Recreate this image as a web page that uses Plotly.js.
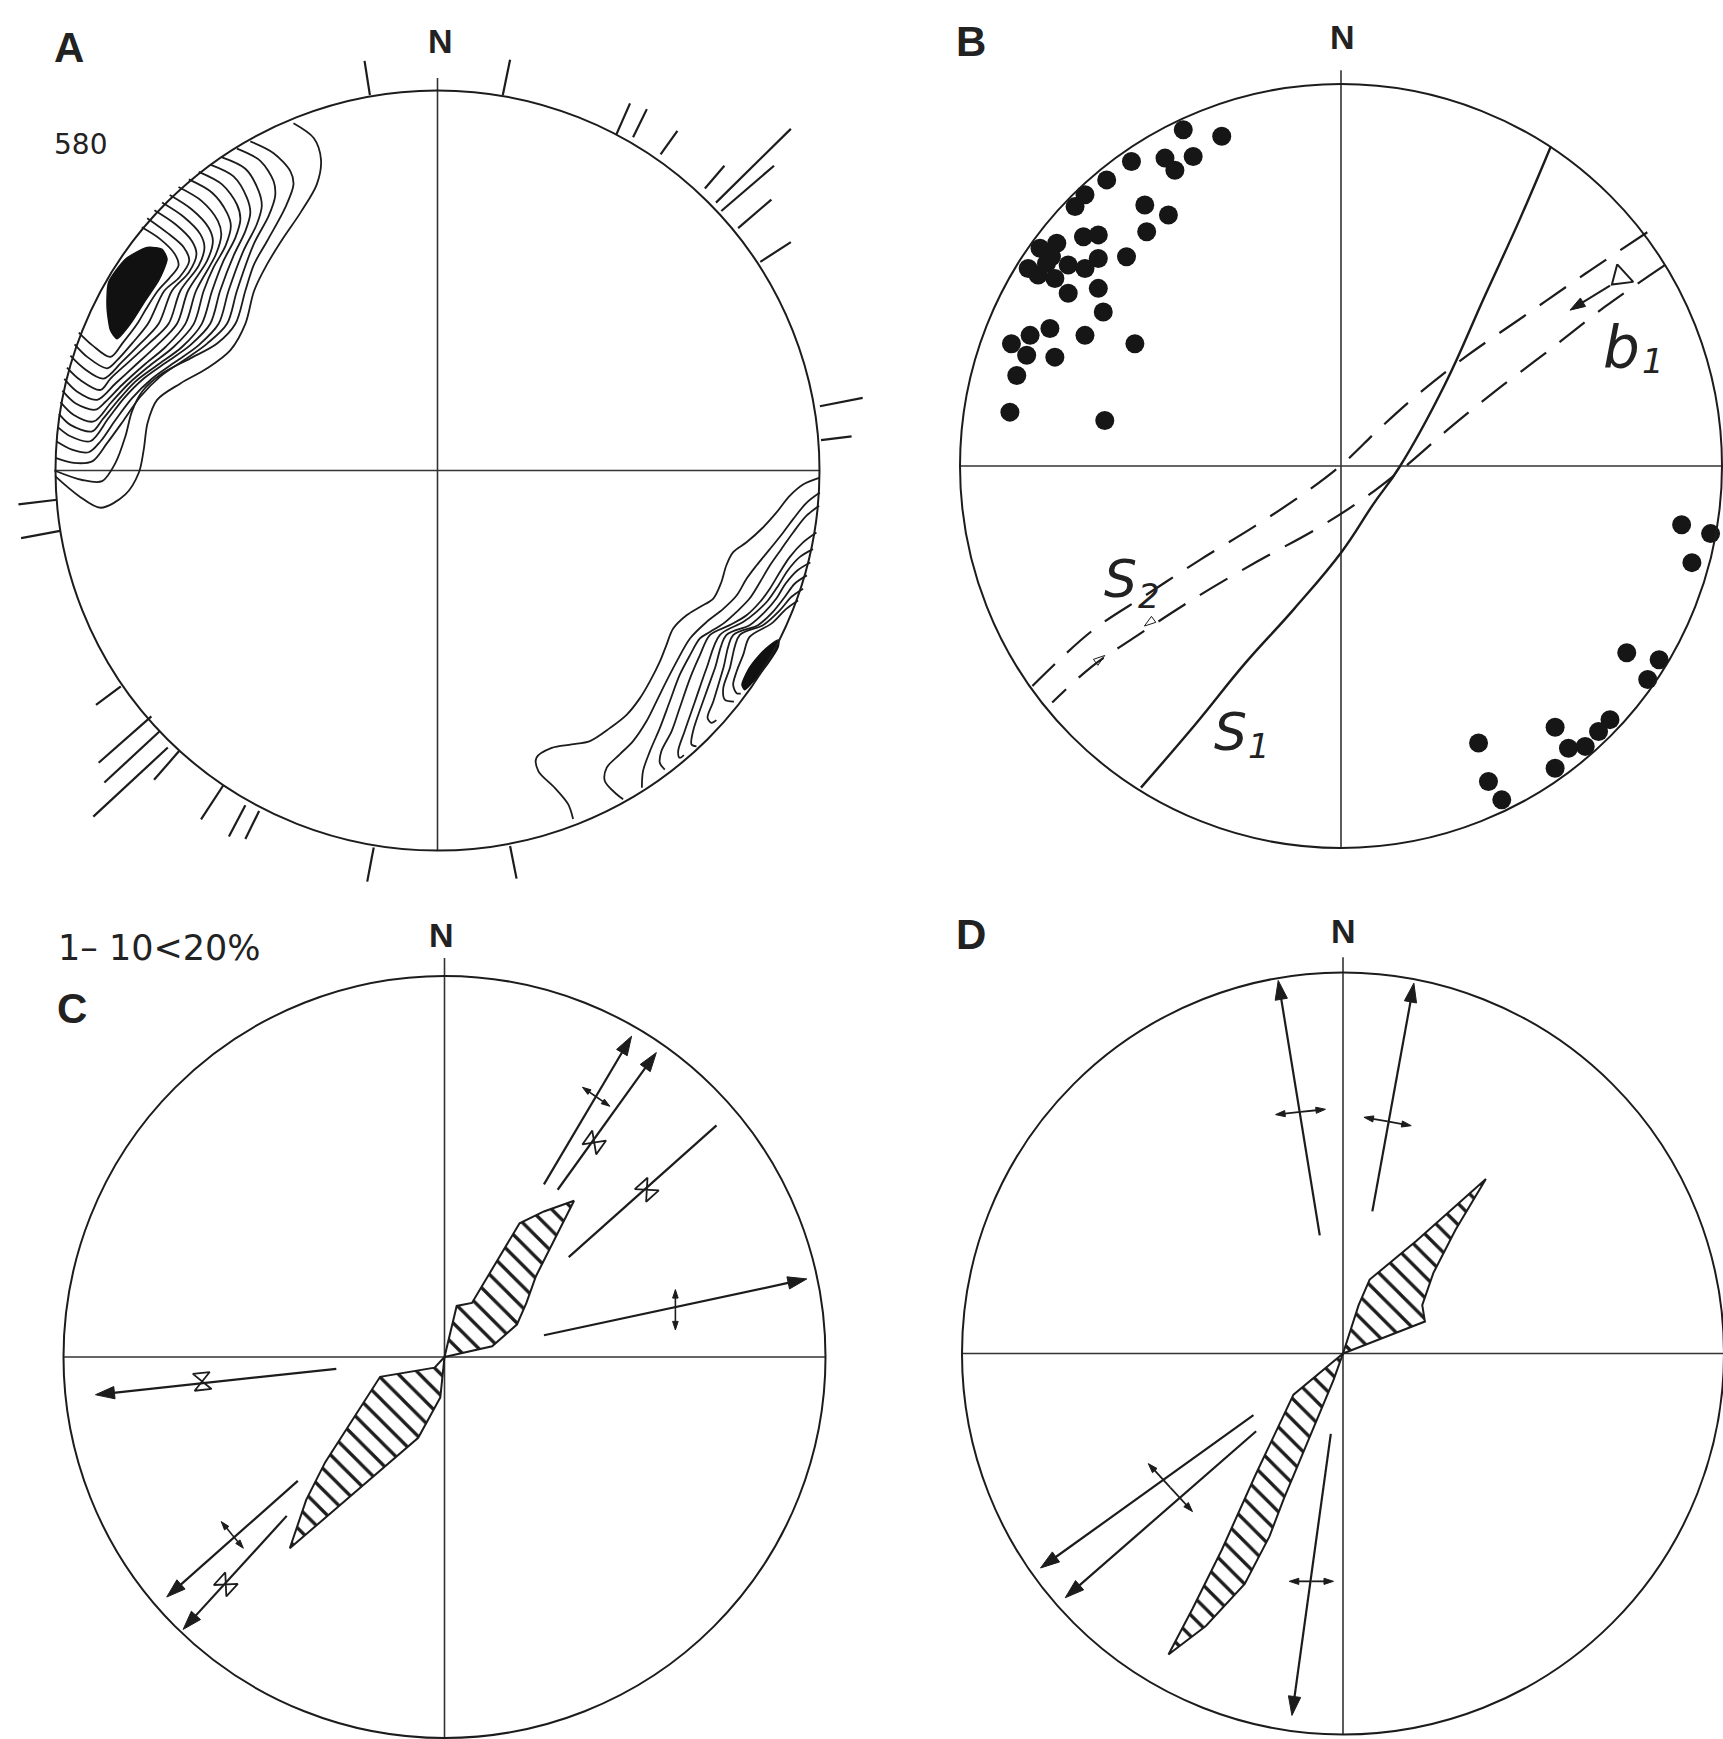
<!DOCTYPE html>
<html><head><meta charset="utf-8">
<script src="https://cdn.plot.ly/plotly-3.0.1.min.js"></script>
<style>html,body{margin:0;padding:0;background:#fff;}#chart{width:1723px;height:1739px;}</style>
</head><body><div id="chart"></div>
<script>
// ===== DATA (stereonet coordinates, primitive circle radius = 100) =====
// Panel A: contour lines of pole density (580 poles), NW maximum
const contoursNW = [
 [[-37.7,91.4],[-32.4,87.5],[-30.5,81.8],[-31.6,75.3],[-35.9,67.8],[-40.3,61.3],[-44.6,54.3],[-48.0,47.3],[-50.3,38.6],[-54.2,31.7],[-60.3,26.9],[-67.3,22.9],[-73.4,18.6],[-75.9,12.5],[-76.9,5.5],[-78.2,-0.6],[-81.7,-6.3],[-88.2,-9.8],[-93.9,-6.7],[-100.1,-1.5]],
 [[-49.0,86.6],[-42.9,83.5],[-38.5,78.7],[-37.7,75.3],[-39.9,69.1],[-44.6,60.4],[-48.0,54.3],[-50.3,47.3],[-52.9,38.6],[-57.7,33.4],[-64.7,29.5],[-72.1,25.5],[-77.3,20.8],[-80.0,15.5],[-81.7,9.0],[-84.3,2.0],[-87.8,-2.8],[-93.0,-2.5],[-100.3,0]],
 [[-52.5,84.7],[-46.4,81.5],[-42.9,76.1],[-42.5,72.2],[-44.2,67.0],[-48.1,59.6],[-52.5,47.3],[-55.1,38.6],[-60.3,33.4],[-66.4,29.0],[-72.6,24.7],[-77.8,19.4],[-82.1,13.3],[-86.5,7.2],[-90.4,2.4],[-95.2,2.0],[-100.0,3.3]],
 [[-56.4,82.4],[-50.3,79.4],[-46.8,73.5],[-46.0,69.6],[-47.3,64.8],[-50.8,57.8],[-54.7,47.3],[-57.3,38.6],[-62.5,33.0],[-68.6,28.6],[-74.7,24.2],[-80.0,19.0],[-84.3,13.3],[-88.2,7.7],[-91.3,4.8],[-95.7,5.5],[-99.8,7.7]],
 [[-59.5,80.5],[-53.4,77.4],[-49.9,71.8],[-49.0,67.8],[-50.3,63.0],[-53.4,56.5],[-56.9,47.3],[-59.5,38.6],[-64.7,33.0],[-70.8,28.6],[-76.9,24.2],[-82.1,19.0],[-86.1,13.8],[-90.9,7.7],[-96.1,9.0],[-99.4,11.4]],
 [[-62.5,78.6],[-56.4,75.3],[-52.5,70.0],[-51.6,66.1],[-52.9,61.3],[-56.0,55.2],[-59.0,47.3],[-61.7,38.6],[-66.9,32.5],[-73.4,27.7],[-79.1,23.4],[-83.9,18.1],[-87.8,13.3],[-90.4,10.3],[-96.1,12.0],[-99.1,14.9]],
 [[-65.1,76.6],[-59.0,73.1],[-55.1,67.8],[-54.1,64.4],[-55.5,59.1],[-58.6,53.5],[-61.2,47.3],[-63.8,38.6],[-69.1,32.5],[-75.2,27.7],[-80.8,22.9],[-85.6,17.7],[-90.0,12.9],[-95.2,14.6],[-98.7,18.0]],
 [[-67.8,74.6],[-61.7,70.9],[-57.5,65.7],[-56.6,62.2],[-58.0,56.9],[-63.2,47.3],[-66.0,38.6],[-71.2,32.5],[-76.9,27.7],[-82.6,22.5],[-86.9,18.1],[-89.6,16.0],[-94.8,17.7],[-98.2,21.0]],
 [[-70.1,72.5],[-64.3,68.7],[-59.9,63.9],[-58.8,60.4],[-60.3,55.2],[-65.3,47.3],[-68.2,38.6],[-73.4,33.0],[-79.1,27.7],[-84.3,22.9],[-89.1,18.6],[-94.4,20.8],[-97.7,24.1]],
 [[-72.1,70.5],[-66.4,66.7],[-62.1,62.2],[-61.0,58.7],[-62.5,53.9],[-67.3,47.3],[-70.4,38.6],[-75.6,33.4],[-80.8,28.6],[-85.6,24.2],[-88.2,21.2],[-93.5,23.8],[-97.0,27.1]],
 [[-74.1,68.5],[-68.6,64.8],[-64.3,60.4],[-63.1,56.9],[-65.1,52.1],[-69.5,47.3],[-73.0,38.6],[-77.8,33.4],[-82.6,28.6],[-87.4,24.2],[-92.6,26.9],[-96.1,30.2]],
 [[-76.0,66.4],[-70.8,62.6],[-66.4,58.7],[-65.0,55.2],[-67.6,50.8],[-71.5,47.3],[-75.8,38.6],[-80.0,33.4],[-83.9,29.0],[-86.5,26.9],[-91.7,29.9],[-95.0,33.2]],
 [[-77.4,64.0],[-72.6,60.9],[-68.8,57.0],[-67.8,53.9],[-70.3,50.5],[-73.2,47.3],[-76.3,42.5],[-78.6,38.6],[-82.4,33.6],[-85.6,29.9],[-90.4,33.0],[-93.9,36.3]]
];
const maxNW = [[-86.1,49.5],[-81.7,55.6],[-76.0,58.7],[-72.1,58.2],[-70.8,55.6],[-73.0,50.0],[-76.5,44.7],[-80.4,38.6],[-83.9,34.7],[-85.6,36.9],[-86.5,43.0],[-86.1,49.5]];
// Panel A: contour lines, SE maximum
const contoursSE = [
 [[100.1,-1.9],[95.7,-3.7],[92.2,-6.7],[88.7,-11.1],[85.2,-15.0],[80.9,-18.9],[77.4,-21.5],[75.6,-25.0],[74.3,-29.4],[72.2,-33.7],[68.7,-35.9],[65.2,-38.1],[61.7,-41.6],[59.9,-46.0],[58.2,-50.3],[55.6,-55.5],[53.0,-59.9],[49.5,-64.3],[45.1,-67.8],[39.9,-71.2],[35.1,-72.1],[29.9,-73.0],[25.9,-75.6],[26.4,-79.1],[30.7,-83.5],[34.2,-87.8],[35.5,-91.7]],
 [[100.1,-5.8],[96.6,-8.5],[93.1,-12.8],[90.5,-16.3],[87.0,-20.7],[83.5,-25.0],[80.9,-28.5],[78.3,-32.9],[74.8,-36.4],[70.4,-39.9],[66.1,-44.2],[62.6,-50.3],[59.9,-55.5],[57.3,-60.8],[54.7,-66.0],[51.2,-71.2],[47.7,-74.7],[44.3,-78.2],[43.8,-81.7],[46.9,-85.2],[48.6,-86.5]],
 [[99.9,-9.3],[96.6,-11.9],[93.1,-16.3],[90.0,-20.7],[87.0,-25.0],[84.4,-29.4],[81.7,-33.7],[78.3,-37.2],[74.8,-40.3],[71.3,-42.5],[68.7,-44.2],[66.1,-48.6],[63.4,-53.8],[60.8,-60.8],[58.2,-67.8],[55.6,-73.9],[53.8,-79.1],[53.5,-83.5]],
 [[99.2,-16.3],[95.7,-18.9],[92.2,-22.8],[89.6,-26.8],[87.0,-31.1],[84.4,-34.6],[80.9,-38.1],[76.5,-40.7],[71.3,-43.3],[68.7,-48.6],[66.1,-54.7],[63.4,-62.5],[61.3,-68.6],[58.6,-73.9],[58.2,-76.9],[59.5,-78.7]],
 [[98.3,-20.7],[94.8,-22.8],[91.7,-26.3],[89.2,-30.3],[86.5,-34.2],[83.5,-37.2],[80.0,-39.9],[73.9,-43.3],[70.4,-52.1],[67.4,-60.8],[64.7,-68.6],[63.0,-73.9],[63.4,-75.6],[64.5,-74.9]],
 [[97.6,-24.2],[94.2,-26.3],[91.1,-29.8],[88.7,-33.7],[85.7,-37.2],[81.7,-40.7],[75.6,-43.3],[72.6,-52.1],[69.5,-60.8],[66.9,-68.6],[66.5,-72.1],[67.8,-72.6]],
 [[96.7,-27.6],[93.5,-29.8],[90.9,-33.3],[87.8,-37.2],[83.9,-40.7],[77.4,-43.3],[74.8,-52.1],[72.2,-60.8],[70.7,-65.1],[71.7,-66.4],[73.0,-65.7]],
 [[95.7,-31.1],[92.6,-33.3],[89.6,-36.8],[85.2,-40.7],[79.1,-43.3],[76.5,-52.1],[74.8,-57.3],[75.2,-60.3],[77.6,-60.8]],
 [[94.4,-34.2],[91.3,-36.4],[87.4,-40.3],[81.7,-43.8],[80.0,-48.6],[78.3,-52.9],[77.4,-56.4],[78.3,-58.6],[79.4,-58.7]]
];
const maxSE = [[89.3,-44.6],[87.0,-46.0],[83.9,-49.0],[81.3,-52.5],[79.7,-56.4],[80.4,-57.7],[83.0,-55.1],[86.5,-50.8],[89.2,-46.4],[89.3,-44.6]];
// Panel A: perimeter ticks [x0,y0,x1,y1]
const ticksA = [
 [-17.7,98.8,-19.1,107.8],[17.1,98.8,19.0,108.1],
 [46.8,88.4,50.4,96.6],[51.2,87.7,54.8,95.1],[58.4,83.2,62.8,89.4],[70.0,74.2,75.1,80.2],
 [72.9,70.5,92.5,89.9],[74.3,68.3,88.1,80.2],[78.7,63.8,87.4,71.3],[84.5,54.9,92.5,60.1],
 [100.1,16.9,111.3,19.1],[100.4,8.0,108.4,9.0],
 [-99.6,-7.7,-109.7,-8.9],[-98.8,-15.9,-109.0,-17.8],
 [-82.9,-56.8,-89.4,-61.7],[-74.9,-64.7,-88.7,-76.9],[-72.8,-68.7,-87.2,-82.1],[-70.6,-72.9,-90.1,-91.1],
 [-67.7,-73.9,-74.2,-81.4],[-56.1,-82.9,-61.9,-91.8],[-50.3,-88.1,-54.6,-96.3],[-46.7,-89.6,-50.3,-97.0],
 [-16.7,-99.2,-18.4,-108.2],[19.0,-98.8,20.7,-107.4]
];
// Panel B: poles (dots)
const bPolesX = [-41.4,-31.3,-55.0,-46.2,-43.6,-38.8,-61.5,-67.2,-69.8,-51.5,-45.3,-51.0,-67.6,-63.7,-74.6,-79.0,-76.0,-63.7,-56.3,-82.1,-77.3,-71.6,-67.2,-79.5,-75.1,-63.7,-71.6,-62.4,-76.4,-81.6,-86.5,-67.2,-54.1,-82.5,-75.1,-85.1,-86.9,-62.0,
                 89.4,97.0,92.1,75.0,83.5,80.5,70.6,67.6,64.1,59.7,56.2,56.2,36.1,38.7,42.2];
const bPolesY = [88.0,86.3,79.7,80.6,77.4,81.0,74.9,71.0,67.9,68.3,65.7,61.3,60.0,60.5,58.3,57.0,54.8,54.3,54.8,51.7,53.0,52.6,51.7,50.0,49.1,46.5,45.2,40.3,36.0,34.2,32.0,34.2,32.0,29.0,28.5,23.7,14.1,11.9,
                 -15.4,-17.7,-25.3,-48.9,-50.7,-55.9,-66.4,-69.5,-73.4,-73.9,-68.4,-79.1,-72.5,-82.6,-87.4];
// Panel B: great circles
const bS1 = [[55.1,83.7],[46.8,64.3],[37.6,44.2],[27.2,21.2],[15.4,-0.2],[8.4,-10.1],[0.3,-22.3],[-12.3,-37.4],[-25.3,-51.8],[-38.2,-67.6],[-52.5,-84.2]];
const bS2a = [[80.4,61.2],[64.2,50.4],[48.6,39.6],[33.0,28.8],[20.1,18.7],[9.7,9.4],[0.6,0.7],[-9.7,-7.2],[-22.7,-15.8],[-36.9,-24.5],[-51.2,-33.8],[-65.4,-43.2],[-81.0,-57.6]];
const bS2b = [[84.9,52.5],[69.3,41.7],[54.5,30.2],[40.0,19.2],[28.0,9.5],[17.0,0],[6.0,-8.5],[-6.5,-16.5],[-22.0,-25.0],[-38.2,-34.5],[-53.8,-44.6],[-65.4,-52.5],[-75.8,-61.9]];
const bB1Triangle = [[72.5,52.8],[76.7,48.2],[71.1,47.5],[72.5,52.8]];
const bB1Arrow = [[70.6,47.2,60.1,40.8]];
const bSmallArrows = [[-47.6,-39.0,-51.6,-41.9],[-66.0,-52.6,-62.0,-49.6]];
// Panel C: rose petals and fold axes
const cPetalNE = [[0,0],[3.2,13.4],[7.2,14.2],[13.2,24.1],[19.7,35.1],[26.1,38.2],[34.0,41.0],[29.0,31.1],[24.0,21.2],[21.5,14.2],[19.0,8.5],[12.5,2.8],[3.2,0.7],[0,0]];
const cPetalSW = [[0,0],[-2.6,-2.8],[-16.9,-5.2],[-24.1,-16.3],[-31.3,-27.6],[-36.3,-37.5],[-40.6,-50.2],[-29.9,-41.0],[-18.4,-31.1],[-6.9,-21.2],[-1.1,-10.6],[0,0]];
const cArrows = [[26.1,45.3,49.1,84.2],[29.7,43.9,55.6,79.9],[26.1,5.7,95.1,20.5],[-28.4,-3.1,-91.6,-9.9],[-38.5,-32.5,-72.9,-63.0],[-41.4,-41.7,-68.6,-71.5]];
const cPlainLine = [[32.6,26.2],[71.4,60.8]];
const cDoubleBars = [[36.2,70.8,43.4,65.8],[60.6,17.7,60.6,7.1],[-58.6,-43.2,-52.8,-50.2]];
const cSynformX = [39.3,53.1,-63.6,-57.4];
const cSynformY = [56.3,43.9,-6.4,-59.7];
const cSynformAngle = [-54.4,-41.7,-6.1,-47.5];
// Panel D
const dPetalNE = [[0,0],[4.1,12.7],[7.0,19.4],[19.3,29.6],[37.5,45.8],[29.5,32.4],[23.7,21.1],[20.8,12.7],[21.5,8.4],[0,0]];
const dPetalSW = [[0,0],[-13.0,-10.8],[-22.8,-31.5],[-31.8,-51.5],[-39.5,-67.0],[-45.8,-79.0],[-36.0,-71.5],[-25.8,-60.5],[-19.3,-48.0],[-15.5,-38.0],[-11.2,-27.8],[-2.5,-7.0],[0,0]];
const dArrows = [[-6.1,31.0,-17.0,97.9],[7.7,37.3,18.6,97.2],[-23.5,-16.2,-79.4,-56.3],[-22.8,-20.4,-72.9,-64.1],[-3.2,-21.1,-13.4,-95.0]];
const dDoubleBars = [[-17.7,62.7,-4.6,64.1],[5.5,62.0,17.9,59.8],[-51.1,-28.9,-39.5,-41.5],[-14.1,-59.8,-2.5,-59.8]];
// Labels
const labels = [
 {p:'A',t:'A',x:-96.5,y:111.4,s:42,w:'bold'},{p:'A',t:'N',x:0.7,y:113.0,s:34,w:'bold'},{p:'A',t:'580',x:-93.4,y:85.8,s:28,f:'DejaVu Sans'},
 {p:'B',t:'B',x:-97.0,y:111.0,s:42,w:'bold'},{p:'B',t:'N',x:0.3,y:112.4,s:34,w:'bold'},
 {p:'B',t:'S',x:-28.9,y:-69.6,s:52,f:'DejaVu Sans',st:'italic'},{p:'B',t:'1',x:-21.4,y:-73.3,s:34,f:'DejaVu Sans',st:'italic'},
 {p:'B',t:'S',x:-58.0,y:-29.5,s:52,f:'DejaVu Sans',st:'italic'},{p:'B',t:'2',x:-50.5,y:-33.9,s:34,f:'DejaVu Sans',st:'italic'},
 {p:'B',t:'b',x:73.5,y:30.8,s:58,f:'DejaVu Sans',st:'italic'},{p:'B',t:'1',x:81.9,y:27.4,s:34,f:'DejaVu Sans',st:'italic'},
 {p:'C',t:'1– 10&lt;20%',x:-74.8,y:107.4,s:35,f:'DejaVu Sans'},{p:'C',t:'C',x:-97.9,y:91.5,s:42,w:'bold'},{p:'C',t:'N',x:-0.7,y:110.8,s:34,w:'bold'},
 {p:'D',t:'D',x:-97.6,y:109.9,s:42,w:'bold'},{p:'D',t:'N',x:0,y:110.8,s:34,w:'bold'}
];
const nsTop = {A:103.3,B:103.6,C:104.7,D:104.0};

// ===== LAYOUT GEOMETRY =====
const W = 1723, H = 1739;
const geo = {A:{cx:437.5,cy:470.5,rx:382,ry:380,ax:''},B:{cx:1341,cy:466,rx:381,ry:382,ax:'2'},
             C:{cx:444.5,cy:1357,rx:381,ry:381,ax:'3'},D:{cx:1343,cy:1353.5,rx:381,ry:381,ax:'4'}};
const INK = '#1c1c1c';
function join(paths){const x=[],y=[];paths.forEach((p,i)=>{if(i){x.push(null);y.push(null);}p.forEach(q=>{x.push(q[0]);y.push(q[1]);});});return {x,y};}
function segs(list){return join(list.map(s=>[[s[0],s[1]],[s[2],s[3]]]));}
function ax(P){return {xaxis:'x'+geo[P].ax, yaxis:'y'+geo[P].ax};}
const traces = [];
const layout = {width:W,height:H,margin:{l:0,r:0,t:0,b:0},paper_bgcolor:'#fff',plot_bgcolor:'rgba(0,0,0,0)',showlegend:false,shapes:[],annotations:[]};
Object.keys(geo).forEach(P=>{
  const g=geo[P], s=g.ax;
  layout['xaxis'+s]={domain:[0,1],range:[-g.cx/g.rx*100,(W-g.cx)/g.rx*100],visible:false,fixedrange:true,anchor:'y'+s};
  layout['yaxis'+s]={domain:[0,1],range:[-(H-g.cy)/g.ry*100,g.cy/g.ry*100],visible:false,fixedrange:true,anchor:'x'+s};
  layout.shapes.push({type:'circle',xref:'x'+s,yref:'y'+s,x0:-100,x1:100,y0:-100,y1:100,line:{color:INK,width:2}});
  const cr=join([[[-100,0],[100,0]],[[0,nsTop[P]],[0,-100]]]);
  traces.push(Object.assign({type:'scatter',mode:'lines',x:cr.x,y:cr.y,line:{color:'#333',width:1.6}},ax(P)));
});
// arrows drawn as line + oriented arrowhead marker
function arrows(P,list,opt){
  const x=[],y=[],sz=[];
  list.forEach((a)=>{
    const parts = opt.both ? [[(a[0]+a[2])/2,(a[1]+a[3])/2,a[0],a[1]],[(a[0]+a[2])/2,(a[1]+a[3])/2,a[2],a[3]]] : [a];
    parts.forEach(q=>{ if(x.length){x.push(null);y.push(null);sz.push(0);} x.push(q[0],q[2]); y.push(q[1],q[3]); sz.push(0,opt.size); });
  });
  traces.push(Object.assign({type:'scatter',mode:'lines+markers',x,y,line:{color:INK,width:opt.width},
    marker:{symbol:opt.symbol||'arrow',size:sz,angleref:'previous',color:INK,opacity:1,line:{width:1,color:INK}}},ax(P)));
}
// Panel A
let j=join(contoursNW);
traces.push(Object.assign({type:'scatter',mode:'lines',x:j.x,y:j.y,line:{color:INK,width:1.8,shape:'spline',smoothing:0.9}},ax('A')));
j=join(contoursSE);
traces.push(Object.assign({type:'scatter',mode:'lines',x:j.x,y:j.y,line:{color:INK,width:1.8,shape:'spline',smoothing:0.9}},ax('A')));
[maxNW,maxSE].forEach(b=>{traces.push(Object.assign({type:'scatter',mode:'lines',x:b.map(p=>p[0]),y:b.map(p=>p[1]),fill:'toself',fillcolor:'#111',line:{color:'#111',width:1.5,shape:'spline',smoothing:0.6}},ax('A')));});
j=segs(ticksA);
traces.push(Object.assign({type:'scatter',mode:'lines',x:j.x,y:j.y,line:{color:INK,width:2.2}},ax('A')));
// Panel B
traces.push(Object.assign({type:'scatter',mode:'markers',x:bPolesX,y:bPolesY,marker:{size:19,color:'#161616',line:{width:0}}},ax('B')));
traces.push(Object.assign({type:'scatter',mode:'lines',x:bS1.map(p=>p[0]),y:bS1.map(p=>p[1]),line:{color:INK,width:2.4,shape:'spline',smoothing:1.2}},ax('B')));
[bS2a,bS2b].forEach(l=>traces.push(Object.assign({type:'scatter',mode:'lines',x:l.map(p=>p[0]),y:l.map(p=>p[1]),line:{color:INK,width:2.2,shape:'spline',dash:'32px,17px'}},ax('B'))));
traces.push(Object.assign({type:'scatter',mode:'lines',x:bB1Triangle.map(p=>p[0]),y:bB1Triangle.map(p=>p[1]),line:{color:INK,width:2}},ax('B')));
arrows('B',bB1Arrow,{size:16,width:2});
arrows('B',bSmallArrows,{size:12,width:0.01,symbol:'arrow-open'});
// Panels C, D petals
[['C',cPetalNE],['C',cPetalSW],['D',dPetalNE],['D',dPetalSW]].forEach(([P,pts])=>{
  traces.push(Object.assign({type:'scatter',mode:'lines',x:pts.map(p=>p[0]),y:pts.map(p=>p[1]),fill:'toself',fillcolor:'#fff',
    fillpattern:{shape:'\\',fgcolor:INK,bgcolor:'#fff',size:15,solidity:0.22},line:{color:INK,width:2}},ax(P)));
});
traces.push(Object.assign({type:'scatter',mode:'lines',x:cPlainLine.map(p=>p[0]),y:cPlainLine.map(p=>p[1]),line:{color:INK,width:2.2}},ax('C')));
arrows('C',cArrows,{size:20,width:2.2});
arrows('C',cDoubleBars,{size:9,width:1.6,both:true});
traces.push(Object.assign({type:'scatter',mode:'markers',x:cSynformX,y:cSynformY,marker:{symbol:'hourglass-open',size:17,angle:cSynformAngle,color:INK,line:{width:1.8,color:INK}}},ax('C')));
arrows('D',dArrows,{size:20,width:2.2});
arrows('D',dDoubleBars,{size:10,width:1.8,both:true});
// labels
labels.forEach(L=>{const s=geo[L.p].ax;layout.annotations.push({xref:'x'+s,yref:'y'+s,x:L.x,y:L.y,text:L.t,showarrow:false,
  font:{family:(L.f||'Liberation Sans')+', Arial, sans-serif',size:L.s,color:'#222',weight:L.w||'normal',style:L.st||'normal'}});});
traces.forEach(t=>{t.hoverinfo='skip';t.showlegend=false;});
Plotly.newPlot('chart',traces,layout,{staticPlot:true,displayModeBar:false});
</script></body></html>
